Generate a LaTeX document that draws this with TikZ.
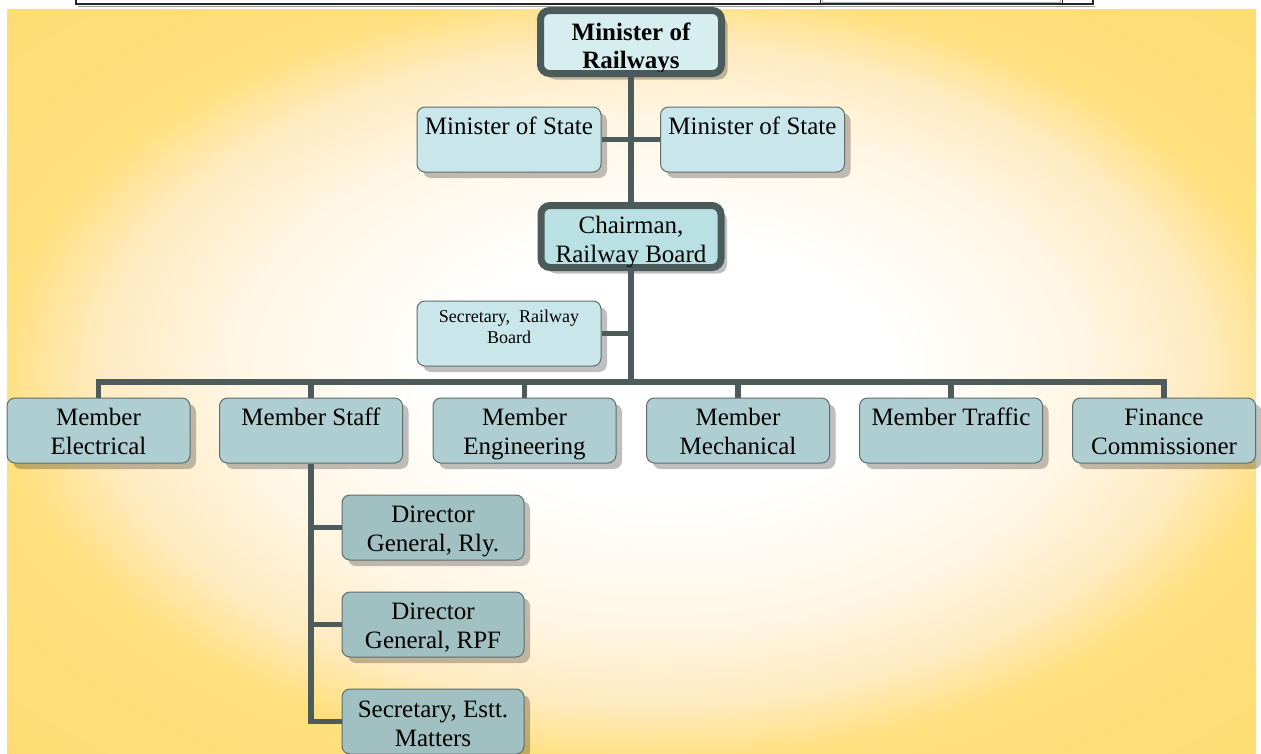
\documentclass[tikz,border=0pt]{standalone}
\usepackage{fontspec}
\setmainfont{Liberation Serif}
\usetikzlibrary{shadows}
\definecolor{bgyellow}{HTML}{FFE07E}
\definecolor{bgedge}{HTML}{FFDC72}
\definecolor{bglight}{HTML}{FFEBC2}
\definecolor{bgcream}{HTML}{FFF6E4}
\definecolor{thickc}{HTML}{4B5A5A}
\definecolor{thinc}{HTML}{5E6D6D}
\definecolor{connc}{HTML}{4D5B5B}
\definecolor{fillmr}{HTML}{D7EEF1}
\definecolor{fillms}{HTML}{C9E7EA}
\definecolor{fillch}{HTML}{B9E0E3}
\definecolor{fillmem}{HTML}{AFCED1}
\definecolor{filldg}{HTML}{A0C0C2}
\pgfdeclareradialshading{bgshade}{\pgfpoint{2bp}{1bp}}{color(0bp)=(white); color(9bp)=(white); color(17bp)=(bgcream); color(22bp)=(bglight); color(26bp)=(bgyellow); color(37bp)=(bgedge)}
\begin{document}
\begin{tikzpicture}[x=1pt,y=-1pt,
  shad/.style={drop shadow={shadow xshift=6pt,shadow yshift=-6pt,opacity=.25,fill=black}},
  thinbox/.style={draw=thinc,line width=1pt,rounded corners=8pt,shad,inner sep=0pt,minimum width=183pt,minimum height=65pt},
  thickbox/.style={draw=thickc,line width=7pt,rounded corners=9pt,shad,inner sep=0pt,minimum width=181pt,minimum height=63pt},
  lbl/.style={anchor=base,inner sep=0pt,font=\fontsize{25}{29}\selectfont},
  conn/.style={draw=connc,line width=5.5pt}]
\useasboundingbox (0,0) rectangle (1261,753);
\fill[white] (0,0) rectangle (1261,753);
\shade[shading=bgshade] (7,9) rectangle (1256,753);
% fragments of the table above
\draw[black!40,line width=1pt] (78,6.2) -- (1095,6.2);
\draw[black!85,line width=1.3pt] (76,0) -- (76,4) -- (1093,4) -- (1093,0);
\draw[black!85,line width=1pt] (820,0) -- (820,3.5) -- (1062,3.5) -- (1062,0);
\draw[black!30,line width=0.6pt] (822,0) -- (822,1.8) -- (1060,1.8) -- (1060,0);
% boxes
\node[thickbox,fill=fillmr] (mr) at (631,42) {};
\node[thinbox,fill=fillms,minimum width=184pt] (ms1) at (509,139.5) {};
\node[thinbox,fill=fillms,minimum width=184pt] (ms2) at (752.5,139.5) {};
\node[thickbox,fill=fillch,minimum width=180pt,minimum height=62pt] (ch) at (631,236.5) {};
\node[thinbox,fill=fillms,minimum width=184pt] (sec) at (509,333.5) {};
\node[thinbox,fill=fillmem] (m1) at (98.5,430.5) {};
\node[thinbox,fill=fillmem] (m2) at (311,430.5) {};
\node[thinbox,fill=fillmem] (m3) at (524.5,430.5) {};
\node[thinbox,fill=fillmem] (m4) at (738,430.5) {};
\node[thinbox,fill=fillmem] (m5) at (951,430.5) {};
\node[thinbox,fill=fillmem] (m6) at (1164,430.5) {};
\node[thinbox,fill=filldg,minimum width=182pt] (d1) at (433,527.5) {};
\node[thinbox,fill=filldg,minimum width=182pt] (d2) at (433,624.5) {};
\node[thinbox,fill=filldg,minimum width=182pt] (d3) at (433,721.5) {};
% texts
\begin{scope}
\clip[rounded corners=6pt] ([shift={(3.5pt,-3.5pt)}]mr.north west) rectangle ([shift={(-3.5pt,5.5pt)}]mr.south east);
\node[lbl,font=\bfseries\fontsize{25}{28}\selectfont] (mr-t) at (631,40) {\begin{tabular}[t]{@{}c@{}}Minister of\\Railways\end{tabular}};
\end{scope}
\node[lbl] (ms1-t) at (509,134) {Minister of State};
\node[lbl] (ms2-t) at (752.5,134) {Minister of State};
\begin{scope}
\clip[rounded corners=6pt] ([shift={(3.5pt,-3.5pt)}]ch.north west) rectangle ([shift={(-3.5pt,5pt)}]ch.south east);
\node[lbl] (ch-t) at (631,233) {\begin{tabular}[t]{@{}c@{}}Chairman,\\Railway Board\end{tabular}};
\end{scope}
\node[lbl,font=\fontsize{18}{21}\selectfont] (sec-t) at (509,322) {\begin{tabular}[t]{@{}c@{}}Secretary,\ \ Railway\\Board\end{tabular}};
\node[lbl] (m1-t) at (98.5,425) {\begin{tabular}[t]{@{}c@{}}Member\\Electrical\end{tabular}};
\node[lbl] (m2-t) at (311,425) {Member Staff};
\node[lbl] (m3-t) at (524.5,425) {\begin{tabular}[t]{@{}c@{}}Member\\Engineering\end{tabular}};
\node[lbl] (m4-t) at (738,425) {\begin{tabular}[t]{@{}c@{}}Member\\Mechanical\end{tabular}};
\node[lbl] (m5-t) at (951,425) {Member Traffic};
\node[lbl] (m6-t) at (1164,425) {\begin{tabular}[t]{@{}c@{}}Finance\\Commissioner\end{tabular}};
\node[lbl] (d1-t) at (433,522) {\begin{tabular}[t]{@{}c@{}}Director\\General, Rly.\end{tabular}};
\node[lbl] (d2-t) at (433,619) {\begin{tabular}[t]{@{}c@{}}Director\\General, RPF\end{tabular}};
\node[lbl] (d3-t) at (433,717) {\begin{tabular}[t]{@{}c@{}}Secretary, Estt.\\Matters\end{tabular}};
% connectors
\coordinate (bus) at (631,382);
\draw[conn] (mr.south) -- (ch.north);
\draw[conn] (ms1.east) -- (ms2.west);
\draw[conn] (ch.south) -- (bus);
\draw[conn] (sec.east) -- (sec.east -| bus);
\draw[conn] (m1.north) -- (m1.north |- bus) -- (m6.north |- bus) -- (m6.north);
\foreach \m in {m2,m3,m4,m5} \draw[conn] (\m.north |- bus) -- (\m.north);
\draw[conn] (m2.south) |- (d3.west);
\draw[conn] (m2.south |- d1.west) -- (d1.west);
\draw[conn] (m2.south |- d2.west) -- (d2.west);
\end{tikzpicture}
\end{document}
